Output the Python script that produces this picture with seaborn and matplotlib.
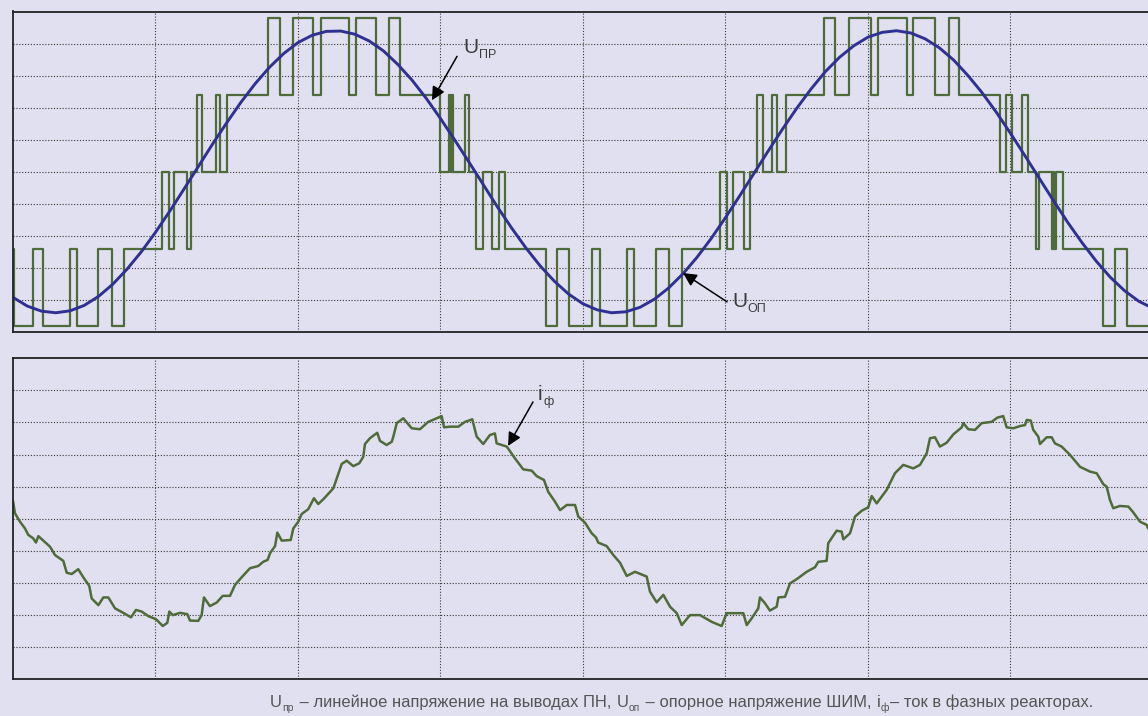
"""Multilevel converter: line voltage vs PWM reference, and phase reactor current."""
import matplotlib
matplotlib.use("Agg")
import matplotlib.pyplot as plt
import pandas as pd
import seaborn as sns

BG = "#e1e0f0"
GREEN = "#4e6b3a"
BLUE = "#2e3192"
TXT = "#3c3c3c"
FONT = ["Liberation Sans", "DejaVu Sans"]

# --- top panel: converter line voltage (5 levels) -------------------------
LEVELS = [-4.8, -2.4, 0.0, 2.4, 4.8]
SWITCH_T = [
    0.00, 0.05, 1.40, 2.11, 4.00, 4.49, 5.96, 6.95, 7.79, 10.46,
    10.95, 11.30, 12.21, 12.49, 12.91, 13.26, 14.25, 14.53, 15.02, 17.89,
    18.74, 19.65, 21.05, 21.61, 23.58, 24.07, 25.47, 26.39, 27.16, 29.96,
    30.62, 30.71, 30.80, 30.90, 31.72, 32.02, 32.49, 33.00, 33.59, 34.13,
    34.53, 37.38, 38.15, 39.02, 40.65, 41.19, 43.07, 43.58, 45.12, 46.04,
    46.93, 49.61, 50.08, 50.50, 51.30, 51.75, 52.19, 52.65, 53.26, 53.58,
    54.25, 56.93, 57.68, 58.69, 60.21, 60.72, 62.72, 63.14, 64.70, 65.68,
    66.39, 69.26, 69.66, 70.08, 70.79, 71.25, 71.79, 72.02, 72.90, 72.99,
    73.08, 73.19, 73.71, 76.47, 77.33, 78.15, 80.00,
]
SWITCH_LVL = [
    1, 0, 1, 0, 1, 0, 1, 0, 1, 2,
    1, 2, 1, 2, 3, 2, 3, 2, 3, 4,
    3, 4, 3, 4, 3, 4, 3, 4, 3, 2,
    3, 2, 3, 2, 3, 2, 1, 2, 1, 2,
    1, 0, 1, 0, 1, 0, 1, 0, 1, 0,
    1, 2, 1, 2, 1, 2, 3, 2, 3, 2,
    3, 4, 3, 4, 3, 4, 3, 4, 3, 4,
    3, 2, 3, 2, 3, 2, 1, 2, 1, 2,
    1, 2, 1, 0, 1, 0, 0,
]

# PWM reference voltage, sampled every time unit
REF_T = list(range(81))
REF_U = [
    -3.92, -4.19, -4.35, -4.40, -4.34, -4.17, -3.89, -3.51, -3.04, -2.50,
    -1.89, -1.23, -0.54, 0.16, 0.86, 1.53, 2.17, 2.75, 3.26, 3.69,
    4.03, 4.26, 4.38, 4.39, 4.29, 4.08, 3.77, 3.35, 2.86, 2.29,
    1.66, 0.99, 0.30, -0.40, -1.10, -1.76, -2.38, -2.94, -3.42, -3.82,
    -4.12, -4.31, -4.40, -4.37, -4.23, -3.98, -3.63, -3.19, -2.67, -2.08,
    -1.43, -0.75, -0.05, 0.65, 1.33, 1.98, 2.58, 3.12, 3.57, 3.93,
    4.20, 4.35, 4.40, 4.33, 4.15, 3.87, 3.49, 3.01, 2.47, 1.86,
    1.20, 0.51, -0.19, -0.89, -1.57, -2.20, -2.78, -3.29, -3.71, -4.04,
    -4.26,
]

# --- bottom panel: phase reactor current ----------------------------------
CUR_T = [
    0.00, 0.14, 0.49, 0.84, 1.07, 1.42, 1.61, 1.78, 2.13, 2.60,
    2.95, 3.53, 3.77, 4.12, 4.58, 4.93, 5.35, 5.52, 5.99, 6.34,
    6.69, 7.16, 7.74, 8.28, 8.63, 9.03, 9.49, 10.04, 10.51, 10.83,
    10.97, 11.21, 11.72, 12.23, 12.42, 13.00, 13.24, 13.40, 13.82, 14.29,
    14.72, 15.23, 15.58, 16.05, 16.63, 17.21, 17.56, 17.87, 18.04, 18.39,
    18.55, 18.86, 19.49, 19.67, 20.02, 20.26, 20.72, 21.12, 21.42, 21.78,
    22.48, 23.07, 23.42, 23.88, 24.30, 24.58, 24.70, 25.05, 25.56, 25.75,
    26.22, 26.58, 26.69, 26.93, 27.39, 27.98, 28.56, 29.14, 29.73, 30.08,
    30.25, 30.67, 31.25, 31.72, 32.23, 32.54, 33.00, 33.47, 33.82, 33.94,
    34.65, 35.23, 35.81, 36.40, 36.75, 37.26, 37.56, 38.04, 38.39, 38.86,
    39.44, 39.67, 40.14, 40.61, 40.91, 41.07, 41.66, 42.13, 42.60, 43.07,
    43.65, 44.47, 44.70, 45.17, 45.64, 46.11, 46.58, 46.93, 47.51, 48.21,
    49.03, 49.73, 50.08, 51.25, 51.49, 51.84, 52.30, 52.42, 52.77, 53.12,
    53.59, 53.71, 54.18, 54.53, 55.00, 55.70, 56.28, 56.51, 57.10, 57.21,
    57.80, 58.15, 58.27, 58.74, 59.09, 59.56, 60.02, 60.26, 60.61, 61.31,
    61.89, 62.48, 63.18, 63.65, 64.12, 64.35, 64.70, 65.05, 65.52, 65.99,
    66.58, 66.69, 67.04, 67.51, 67.98, 68.68, 69.07, 69.49, 69.73, 70.20,
    70.67, 71.02, 71.14, 71.42, 71.60, 71.95, 72.07, 72.54, 72.89, 73.12,
    73.59, 74.18, 74.88, 75.58, 76.05, 76.51, 76.75, 76.98, 77.21, 77.68,
    78.27, 78.58, 79.09, 79.56, 79.65,
]
CUR_I = [
    0.56, 0.17, -0.09, -0.30, -0.50, -0.61, -0.74, -0.54, -0.68, -0.87,
    -1.13, -1.31, -1.68, -1.72, -1.57, -1.82, -2.09, -2.48, -2.69, -2.45,
    -2.45, -2.79, -2.93, -3.07, -2.84, -2.89, -3.03, -3.13, -3.34, -3.24,
    -2.89, -3.00, -2.93, -2.97, -3.17, -3.18, -3.00, -2.45, -2.72, -2.61,
    -2.40, -2.40, -2.06, -1.82, -1.54, -1.47, -1.34, -1.28, -1.07, -0.85,
    -0.43, -0.68, -0.66, -0.30, -0.09, 0.15, 0.30, 0.64, 0.46, 0.61,
    0.95, 1.71, 1.81, 1.64, 1.73, 1.93, 2.33, 2.51, 2.68, 2.43,
    2.30, 2.40, 2.56, 2.98, 3.13, 2.82, 2.79, 3.02, 3.13, 3.20,
    2.85, 2.87, 2.87, 3.02, 3.10, 2.56, 2.33, 2.61, 2.66, 2.35,
    2.25, 1.88, 1.54, 1.50, 1.33, 1.21, 0.84, 0.53, 0.27, 0.43,
    0.43, 0.07, -0.12, -0.45, -0.58, -0.74, -0.85, -1.13, -1.37, -1.78,
    -1.65, -1.80, -2.27, -2.60, -2.37, -2.74, -2.94, -3.31, -3.00, -3.00,
    -3.21, -3.34, -2.94, -2.94, -3.31, -3.10, -2.79, -2.45, -2.63, -2.86,
    -2.74, -2.45, -2.43, -2.01, -1.88, -1.65, -1.51, -1.34, -1.31, -0.76,
    -0.37, -0.40, -0.64, -0.45, 0.07, 0.25, 0.36, 0.71, 0.48, 0.90,
    1.42, 1.68, 1.57, 1.68, 2.04, 2.51, 2.54, 2.25, 2.37, 2.63,
    2.85, 2.98, 2.79, 2.77, 2.98, 3.02, 3.15, 3.20, 2.85, 2.82,
    2.89, 2.92, 3.08, 3.06, 2.77, 2.56, 2.33, 2.54, 2.54, 2.35,
    2.25, 1.99, 1.62, 1.47, 1.42, 1.08, 1.00, 0.59, 0.33, 0.40,
    0.38, 0.22, -0.09, -0.19, -0.30,
]

CAPTION = [
    ("U", "main"), ("пр", "sub"), (" – линейное напряжение на выводах ПН, ", "main"),
    ("U", "main"), ("оп", "sub"), (" – опорное напряжение ШИМ, ", "main"),
    ("i", "main"), ("ф", "sub"), ("– ток в фазных реакторах.", "main"),
]

sns.set_style("white")
plt.rcParams["font.family"] = FONT

fig = plt.figure(figsize=(11.48, 7.16), dpi=100, facecolor=BG)
ax_u = fig.add_axes([13 / 1148, 1 - 332 / 716, 1135 / 1148, 320.5 / 716])
ax_i = fig.add_axes([13 / 1148, 1 - 679.3 / 716, 1135 / 1148, 321 / 716])

for ax in (ax_u, ax_i):
    ax.set_facecolor(BG)
    ax.set_xlim(0, 79.65)
    ax.set_ylim(-5, 5)
    ax.set_xticks(range(10, 80, 10))
    ax.set_yticks(range(-4, 5))
    ax.tick_params(length=0, labelbottom=False, labelleft=False)
    ax.grid(True, linestyle=(0, (1, 1.6)), color="#3a3a3a", lw=0.8)
    ax.spines["right"].set_visible(False)
    for s in ("left", "top", "bottom"):
        ax.spines[s].set_color("#222222")
        ax.spines[s].set_linewidth(1.3)

steps = pd.DataFrame({"t": SWITCH_T, "u": [LEVELS[k] for k in SWITCH_LVL]})
ref = pd.DataFrame({"t": REF_T, "u": REF_U})
cur = pd.DataFrame({"t": CUR_T, "i": CUR_I})

sns.lineplot(data=steps, x="t", y="u", ax=ax_u, color=GREEN, lw=1.6,
             drawstyle="steps-post", sort=False, estimator=None)
sns.lineplot(data=ref, x="t", y="u", ax=ax_u, color=BLUE, lw=2.1,
             sort=False, estimator=None)
sns.lineplot(data=cur, x="t", y="i", ax=ax_i, color=GREEN, lw=1.8,
             sort=False, estimator=None)
for ax in (ax_u, ax_i):
    ax.set_xlabel("")
    ax.set_ylabel("")

renderer = fig.canvas.get_renderer()


def rich(x, y, parts, size, subsize, color, drop=4):
    # x, y in figure pixels (baseline); pieces are laid out left to right
    texts = []
    for s, kind in parts:
        sub = kind == "sub"
        t = fig.text(x / fig.bbox.width, (y - (drop if sub else 0)) / fig.bbox.height,
                     s, fontsize=subsize if sub else size, color=color,
                     va="baseline", ha="left")
        texts.append(t)
        x = t.get_window_extent(renderer).x1 + (0.5 if not sub else 1)
    return texts, x


def label(ax, x, y, base, sub, tail, tip):
    ax.annotate("", xy=tip, xytext=tail,
                arrowprops=dict(arrowstyle="-|>", color="black", lw=1.1,
                                mutation_scale=20, shrinkA=0, shrinkB=0))
    px, py = ax.transData.transform((x, y))
    rich(px, py, [(base, "main"), (sub, "sub")], 15, 9, TXT, drop=5)


label(ax_u, 31.58, 3.69, "U", "ПР", (31.16, 3.60), (29.40, 2.23))
label(ax_u, 50.46, -4.22, "U", "ОП", (50.11, -4.06), (47.02, -3.16))
label(ax_i, 36.84, 3.70, "i", "ф", (36.49, 3.64), (34.74, 2.27))

# caption: fit it to the width it takes in the original (x 270..1095)
cap_x, cap_y, cap_w = 270, 716 - 707, 825
size = 12.0
texts, x_end = rich(cap_x, cap_y, CAPTION, size, size * 0.62, "#555555")
for t in texts:
    t.remove()
size *= cap_w / (x_end - cap_x)
rich(cap_x, cap_y, CAPTION, size, size * 0.62, "#555555", drop=4)

fig.savefig("out.png", dpi=100, facecolor=BG)
